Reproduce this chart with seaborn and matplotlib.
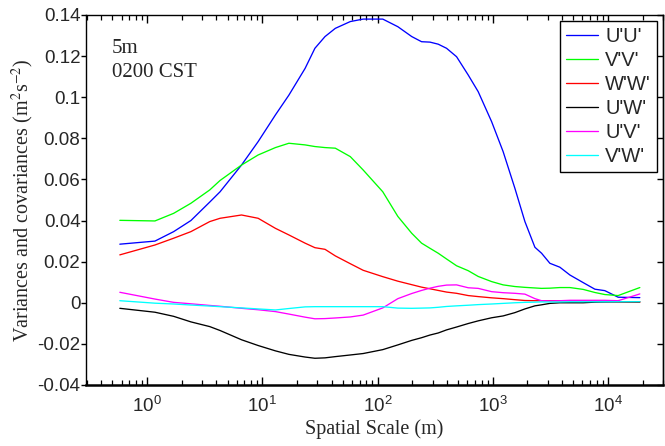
import numpy as np
import pandas as pd
import seaborn as sns
import matplotlib
matplotlib.use("Agg")
import matplotlib.pyplot as plt
from matplotlib.ticker import FuncFormatter, LogLocator

# spatial scale (m)
scale = [0.58, 1.17, 1.7, 2.4, 3.5, 4.3, 6.6, 9.2, 13, 17, 23.5, 28.6, 35, 43, 58, 75,
         111, 150, 198, 241, 285, 336, 397, 485, 612, 747, 977, 1230, 1555, 1900, 2320,
         2650, 3130, 3820, 4670, 6090, 7690, 9380, 12240, 18880]

uu = [0.0285, 0.030, 0.0346, 0.040, 0.049, 0.054, 0.067, 0.0784, 0.0914, 0.101, 0.114,
      0.1238, 0.1295, 0.1335, 0.1368, 0.138, 0.138, 0.1343, 0.1295, 0.127, 0.1268, 0.1258,
      0.1238, 0.1197, 0.1108, 0.1027, 0.0881, 0.0735, 0.0557, 0.0395, 0.027, 0.0241,
      0.0192, 0.0173, 0.0135, 0.0098, 0.0066, 0.0059, 0.0027, 0.0025]
vv = [0.0401, 0.0398, 0.0435, 0.0484, 0.0549, 0.0595, 0.067, 0.0719, 0.0755, 0.0776, 0.0768,
      0.076, 0.0755, 0.0752, 0.0711, 0.0646, 0.054, 0.042, 0.0338, 0.029, 0.0265, 0.0241,
      0.0213, 0.018, 0.0156, 0.0128, 0.0103, 0.0087, 0.0079, 0.0075, 0.0072, 0.007,
      0.0071, 0.0074, 0.0074, 0.0065, 0.005, 0.004, 0.0035, 0.0074]
ww = [0.0233, 0.0281, 0.0314, 0.0346, 0.0395, 0.0411, 0.0427, 0.0411, 0.0362, 0.033, 0.029,
      0.0268, 0.026, 0.0228, 0.019, 0.0158, 0.0127, 0.0105, 0.0088, 0.0076, 0.0068, 0.006,
      0.0052, 0.0046, 0.0035, 0.003, 0.0024, 0.002, 0.0015, 0.0011, 0.001, 0.001,
      0.001, 0.001, 0.001, 0.001, 0.0008, 0.0006, 0.0004, 0.0002]
uw = [-0.0027, -0.0046, -0.0066, -0.0093, -0.0116, -0.0135, -0.018, -0.0208, -0.0234, -0.0251,
      -0.0264, -0.027, -0.0268, -0.0262, -0.0254, -0.0247, -0.0228, -0.0205, -0.0183, -0.017,
      -0.0157, -0.0147, -0.0132, -0.0118, -0.0101, -0.0088, -0.0073, -0.0064, -0.0048, -0.003,
      -0.0015, -0.001, -0.0003, 0.0, 0.0, 0.0, 0.0003, 0.0004, 0.0005, 0.0005]
uv = [0.0051, 0.0018, 0.0002, -0.0005, -0.0013, -0.0017, -0.0027, -0.0034, -0.0043, -0.0055,
      -0.007, -0.0078, -0.0077, -0.0074, -0.0069, -0.006, -0.0025, 0.002, 0.0045, 0.006,
      0.0071, 0.008, 0.0086, 0.0087, 0.0073, 0.007, 0.0054, 0.0049, 0.0046, 0.0042,
      0.002, 0.001, 0.0009, 0.001, 0.0012, 0.0012, 0.0012, 0.0012, 0.001, 0.0043]
vw = [0.001, -0.0002, -0.0006, -0.0011, -0.0016, -0.0019, -0.0025, -0.003, -0.0035, -0.0028,
      -0.002, -0.0019, -0.0019, -0.0019, -0.0019, -0.0019, -0.0019, -0.0026, -0.0027, -0.0026,
      -0.0025, -0.0022, -0.0018, -0.0015, -0.0012, -0.0009, -0.0006, -0.0003, 0.0, 0.0002,
      0.0003, 0.0004, 0.0004, 0.0004, 0.0005, 0.0005, 0.0005, 0.0005, 0.0005, 0.0005]

names = ["U'U'", "V'V'", "W'W'", "U'W'", "U'V'", "V'W'"]
colors = ["#0000ff", "#00ff00", "#ff0000", "#000000", "#ff00ff", "#00ffff"]
series = [uu, vv, ww, uw, uv, vw]

rows = []
for name, vals in zip(names, series):
    for s, v in zip(scale, vals):
        rows.append({"scale": s, "value": v, "series": name})
df = pd.DataFrame(rows)

sns.set_style("ticks")
plt.rcParams["font.family"] = ["Liberation Sans", "DejaVu Sans"]
plt.rcParams["mathtext.fontset"] = "stix"

fig = plt.figure(figsize=(6.65, 4.46), dpi=100)
ax = fig.add_axes([0.1293, 0.1368, 0.8677, 0.8296])

sns.lineplot(data=df, x="scale", y="value", hue="series", hue_order=names,
             palette=dict(zip(names, colors)), linewidth=0.95, ax=ax, sort=False)

ax.set_xscale("log")
ax.set_xlim(0.295, 3.0e4)
ax.set_ylim(-0.04, 0.14)
yt = np.arange(-0.04, 0.141, 0.02)
ax.set_yticks(yt)
ax.yaxis.set_major_formatter(FuncFormatter(lambda v, p: "%g" % round(v, 2)))
ax.xaxis.set_minor_locator(LogLocator(base=10, subs=np.arange(2, 10), numticks=20))

for sp in ax.spines.values():
    sp.set_color("black")
    sp.set_linewidth(1.0)
ax.spines["bottom"].set_linewidth(1.8)

# ticks: inward on the x axis (top and bottom), outward on the left
ax.tick_params(axis="x", which="major", direction="in", bottom=True, top=True,
               length=5.5, width=1.0, color="black", labelsize=13.5, pad=8)
ax.tick_params(axis="x", which="minor", direction="in", bottom=True, top=True,
               length=3.5, width=0.9, color="black")
ax.tick_params(axis="y", which="major", direction="out", left=True, right=False,
               length=3.5, width=1.0, color="black", labelsize=13.5, pad=0.5)

# right-hand ticks point inward
sec = ax.secondary_yaxis("right")
sec.set_yticks(yt)
sec.tick_params(axis="y", direction="in", length=4, width=1.0, color="black",
                labelright=False)
sec.spines["right"].set_linewidth(1.0)

ax.set_xlabel("Spatial Scale (m)", family="Liberation Serif", fontsize=14.5, labelpad=2)
ax.set_ylabel("Variances and covariances (m$^2$s$^{-2}$)", family="Liberation Serif",
              fontsize=14.5, labelpad=1)

ax.text(0.0445, 0.898, "5m", transform=ax.transAxes, family="Liberation Serif",
        fontsize=15, va="baseline")
ax.text(0.0445, 0.833, "0200 CST", transform=ax.transAxes, family="Liberation Serif",
        fontsize=15, va="baseline")

leg = ax.legend(loc="upper right", fontsize=14.5, frameon=True, fancybox=False,
                edgecolor="black", framealpha=1, borderaxespad=0.3, handlelength=1.6,
                labelspacing=0.25, handletextpad=0.35, borderpad=0.3)
leg.get_frame().set_linewidth(1.0)

fig.savefig("out.png", dpi=100)
